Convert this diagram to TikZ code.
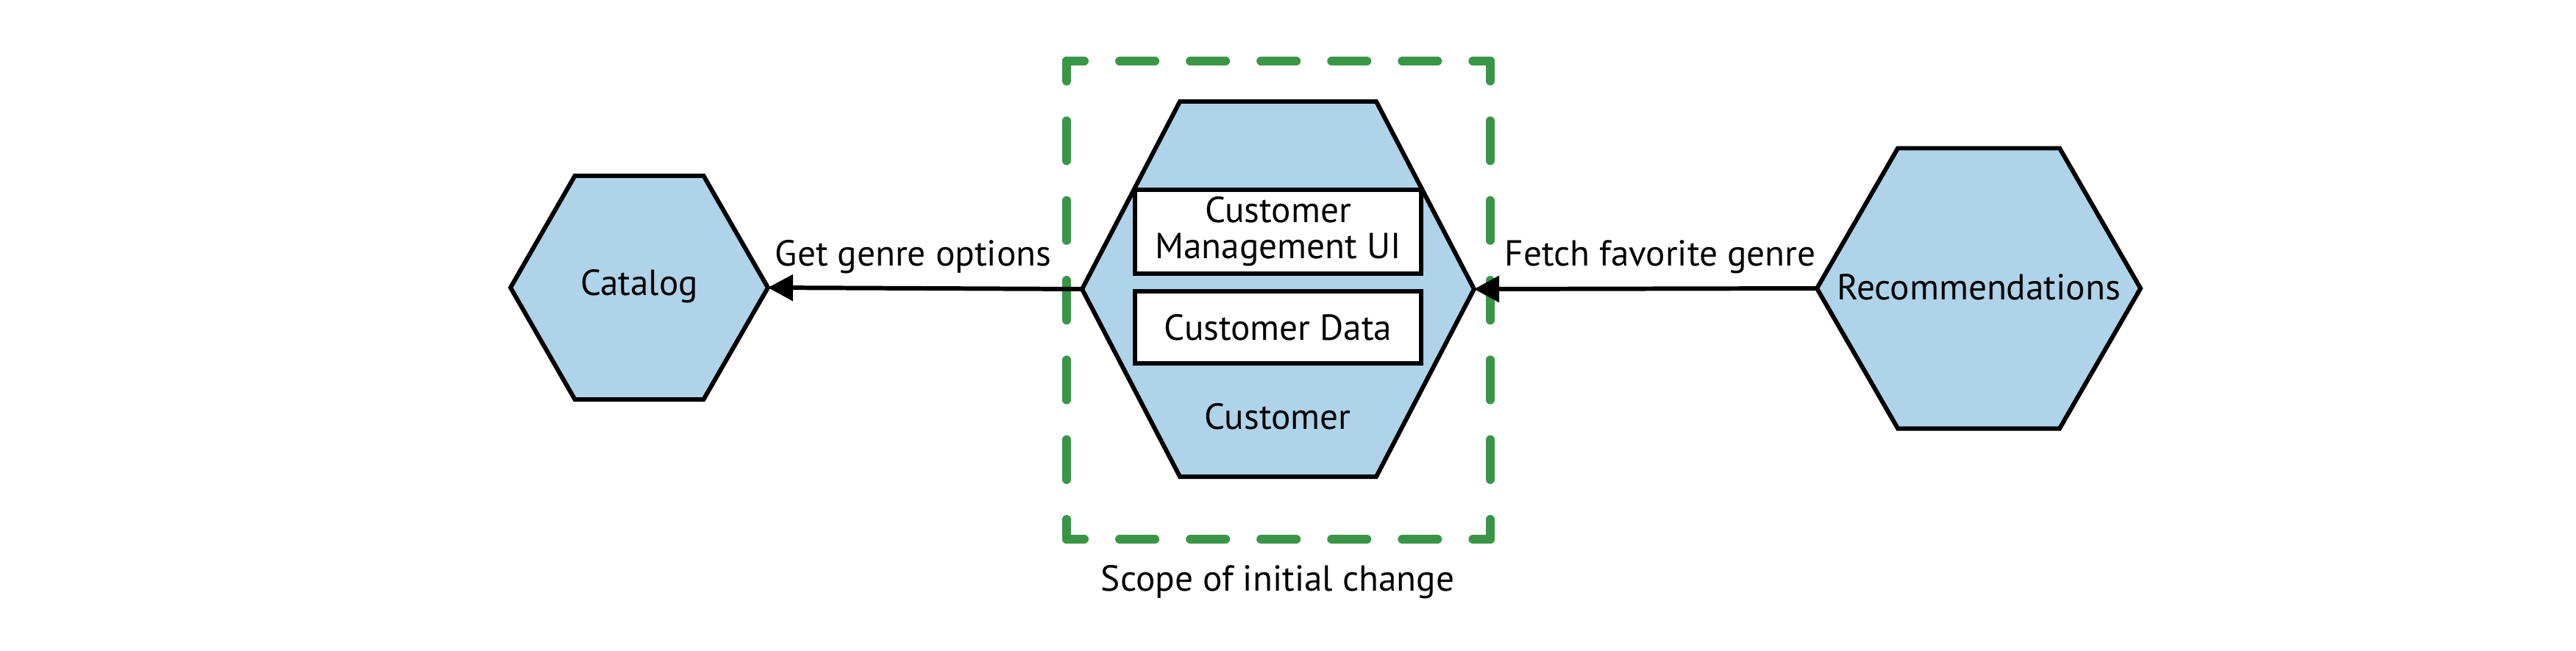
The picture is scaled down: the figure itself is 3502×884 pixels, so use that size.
\documentclass[tikz,border=0pt]{standalone}
\usepackage{fontspec}
\setmainfont{PT Sans}
\usetikzlibrary{arrows.meta}
\definecolor{hexblue}{HTML}{AFD3E8}
\definecolor{scopegreen}{HTML}{3A9647}
\tikzset{
	hexa/.style={draw=black,fill=hexblue,line width=1.7pt,line join=miter},
	inbox/.style={draw=black,fill=white,line width=1.7pt},
	call/.style={draw=black,line width=1.7pt,-{Triangle[length=3.4mm,width=3.5mm]}},
	lbl/.style={font=\fontsize{14}{15}\selectfont,inner sep=0pt,align=center},
	scopeside/.style={draw=scopegreen,line width=3.4pt,line cap=round},
}
\begin{document}
\begin{tikzpicture}[x=0.01cm,y=-0.01cm]
		\useasboundingbox (0,0) rectangle (3502,884);
		% hexagon corners
		\coordinate (CatW) at (694,391);
		\coordinate (CatE) at (1044,391);
		\coordinate (CusW) at (1471,393);
		\coordinate (CusE) at (2004,393);
		\coordinate (RecW) at (2470,392);
		\coordinate (RecE) at (2910,392);
		% scope corners
		\coordinate (S1) at (1450,83);
		\coordinate (S2) at (2026,83);
		\coordinate (S3) at (2026,733);
		\coordinate (S4) at (1450,733);
		% dashed scope, one side at a time
		\draw [scopeside,dash pattern=on 4.8mm off 4.8mm,dash phase=2.4mm] (S1) -- (S2);
		\draw [scopeside,dash pattern=on 4.8mm off 4.8mm,dash phase=2.4mm] (S4) -- (S3);
		\draw [scopeside,dash pattern=on 5.42mm off 5.41mm,dash phase=2.71mm] (S1) -- (S4);
		\draw [scopeside,dash pattern=on 5.42mm off 5.41mm,dash phase=2.71mm] (S2) -- (S3);
		\draw [hexa] (CatW) -- (781.5,239) -- (956.5,239) -- (CatE) -- (956.5,543) -- (781.5,543) -- cycle;
		\draw [hexa] (CusW) -- (1604,138) -- (1871,138) -- (CusE) -- (1871,648) -- (1604,648) -- cycle;
		\draw [hexa] (RecW) -- (2580,201.5) -- (2800,201.5) -- (RecE) -- (2800,582.5) -- (2580,582.5) -- cycle;
		\draw [inbox] (1543,258) rectangle (1932,372);
		\draw [inbox] (1543,396) rectangle (1932,494);
		\node [lbl] (cat) at (869,389) {Catalog};
		\node [lbl] (rec) at (2690,390) {Recommendations};
		\node [lbl] (cus) at (1737,566) {Customer};
		\node [lbl] (ui) at (1737.5,315) {Customer\\[-1pt]Management UI};
		\node [lbl] (data) at (1737.5,445) {Customer Data};
		\node [lbl] (scope) at (1737,791) {Scope of initial change};
		\draw [call] (CusW) -- (CatE) node [lbl,midway,above=5pt,xshift=-0.16cm] (get) {Get genre options};
		\draw [call] (RecW) -- (CusE) node [lbl,midway,above=5pt,xshift=0.2cm] (fetch) {Fetch favorite genre};
	\end{tikzpicture}
\end{document}
